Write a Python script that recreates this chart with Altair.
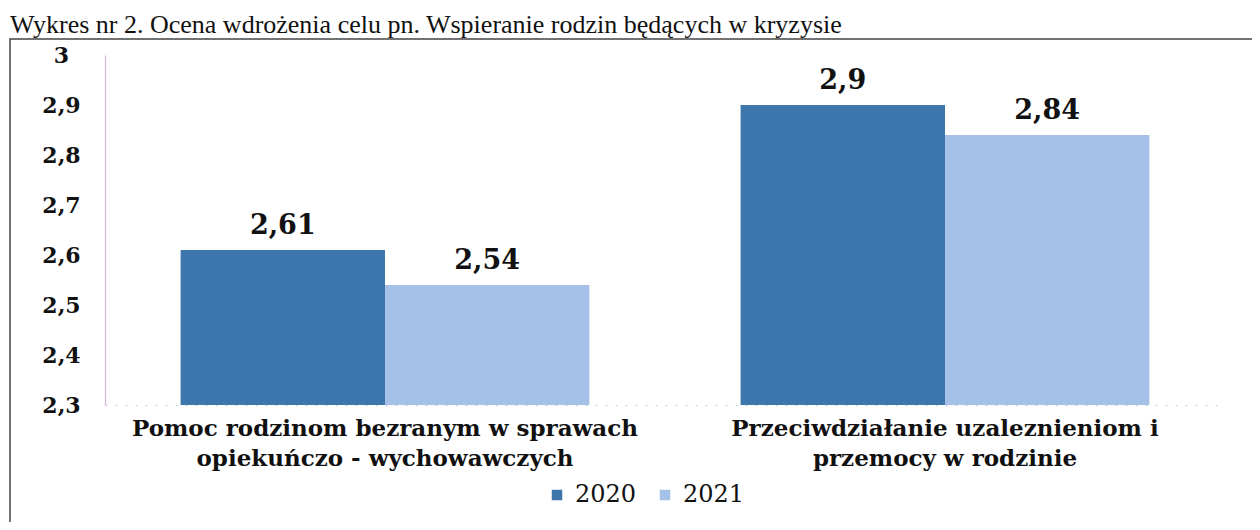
import altair as alt
import pandas as pd

categories = [
    "Pomoc rodzinom bezranym w sprawach\nopiekuńczo - wychowawczych",
    "Przeciwdziałanie uzaleznieniom i\nprzemocy w rodzinie",
]
years = ["2020", "2021"]
values_2020 = [2.61, 2.9]
values_2021 = [2.54, 2.84]
y_ticks = [2.3, 2.4, 2.5, 2.6, 2.7, 2.8, 2.9, 3.0]
colors = ["#3d76ad", "#a5c1e7"]
title_text = "Wykres nr 2. Ocena wdrożenia celu pn. Wspieranie rodzin będących w kryzysie"

rows = []
for c, v20, v21 in zip(categories, values_2020, values_2021):
    rows.append({"kategoria": c, "rok": "2020", "wartosc": v20})
    rows.append({"kategoria": c, "rok": "2021", "wartosc": v21})
df = pd.DataFrame(rows)

SERIF = "DejaVu Serif"

x_enc = alt.X(
    "kategoria:N",
    sort=categories,
    scale=alt.Scale(paddingInner=0.27, paddingOuter=0.135),
    axis=alt.Axis(
        title=None,
        labelAngle=0,
        labelExpr="split(datum.label, '\\n')",
        labelFont=SERIF,
        labelFontSize=23,
        labelFontWeight="bold",
        labelColor="#111",
        labelPadding=12,
        labelLineHeight=30,
        labelBaseline="top",
        labelLimit=0,
        ticks=False,
        domainColor="#c8c8c8",
        domainDash=[2, 8],
        domainWidth=1,
    ),
)

y_enc = alt.Y(
    "wartosc:Q",
    scale=alt.Scale(domain=[2.3, 3.0], zero=False, nice=False),
    axis=alt.Axis(
        title=None,
        values=y_ticks,
        labelExpr="replace(format(datum.value, '.1~f'), '.', ',')",
        labelFont=SERIF,
        labelFontSize=22,
        labelFontWeight="bold",
        labelColor="#111",
        labelAlign="center",
        labelBaseline="middle",
        labelPadding=44,
        tickSize=0,
        ticks=False,
        grid=False,
        domainColor="#d3b6d6",
        domainWidth=1.2,
    ),
)

bars = alt.Chart(df).mark_bar().encode(
    x=x_enc,
    xOffset=alt.XOffset("rok:N", sort=years),
    y=y_enc,
    y2=alt.datum(2.3),
    color=alt.Color(
        "rok:N",
        sort=years,
        scale=alt.Scale(domain=years, range=colors),
        legend=alt.Legend(
            title=None,
            orient="none",
            legendX=440,
            legendY=428,
            direction="horizontal",
            symbolType="square",
            symbolSize=110,
            symbolStrokeWidth=0,
            labelFont=SERIF,
            labelFontSize=24,
            labelColor="#111",
            columnPadding=16,
            labelOffset=6,
        ),
    ),
)

texts = alt.Chart(df).transform_calculate(
    etykieta="replace(toString(datum.wartosc), '.', ',')"
).mark_text(
    font=SERIF, fontSize=27, fontWeight="bold", color="#111", baseline="bottom", dy=-10
).encode(
    x=alt.X("kategoria:N", sort=categories),
    xOffset=alt.XOffset("rok:N", sort=years),
    y=alt.Y("wartosc:Q"),
    text="etykieta:N",
)

frame = alt.Chart(pd.DataFrame({"k": [0]})).mark_rect(
    fill=None, stroke="#444", strokeWidth=1.5, clip=False
).encode(
    x=alt.value(-95), x2=alt.value(1150), y=alt.value(-16), y2=alt.value(470)
)

title_mark = alt.Chart(pd.DataFrame({"t": [title_text]})).mark_text(
    font="Liberation Serif", fontSize=26, color="#111", align="left",
    baseline="alphabetic", clip=False
).encode(
    x=alt.value(-95), y=alt.value(-22), text="t:N"
)

chart = alt.layer(frame, bars, texts, title_mark).properties(
    width=1120,
    height=350,
    autosize=alt.AutoSizeParams(type="none"),
    padding={"left": 97, "top": 47, "right": 27, "bottom": 117},
).configure(background="white").configure_view(strokeWidth=0, stroke="transparent")

chart.save("out.html", embed_options={"renderer": "svg", "actions": False})
